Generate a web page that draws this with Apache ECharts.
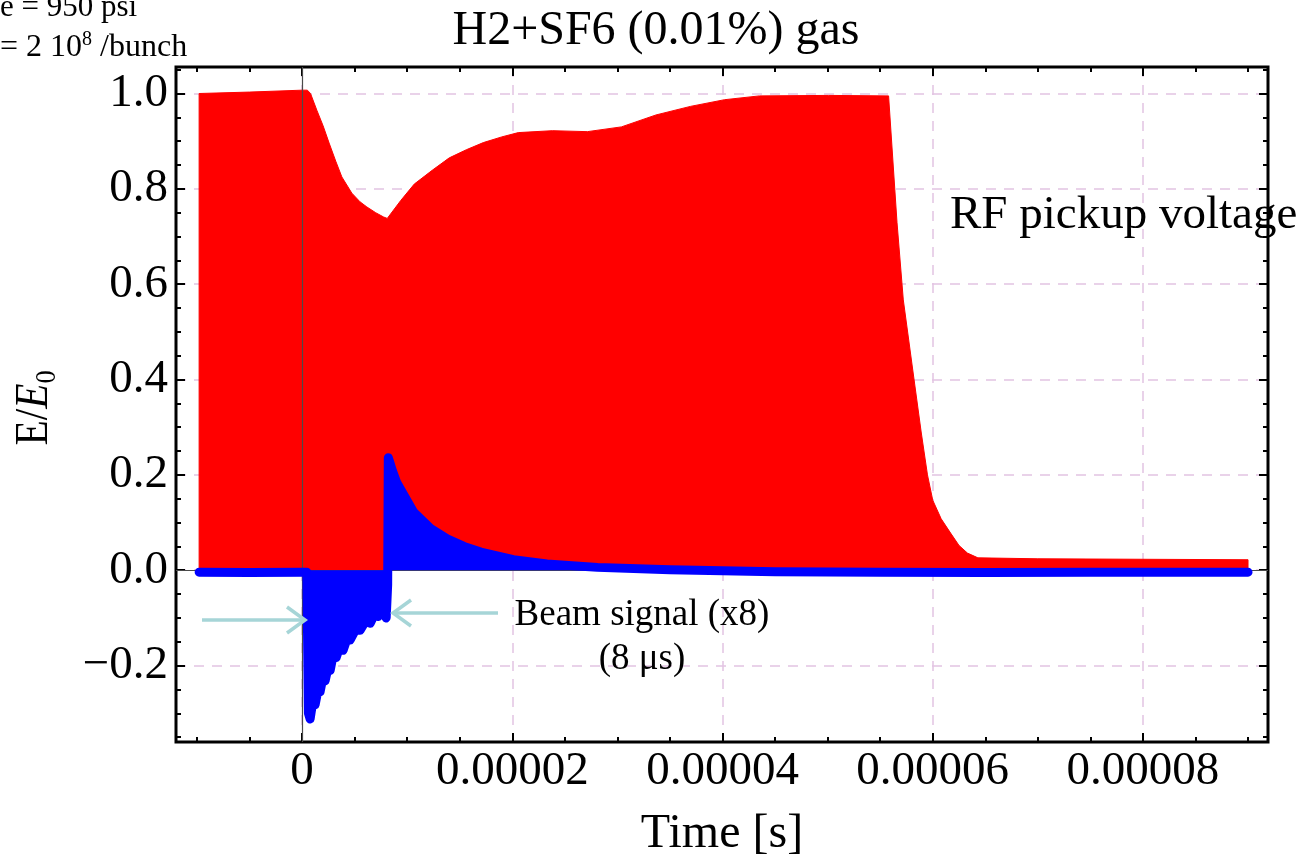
<!DOCTYPE html>
<html>
<head>
<meta charset="utf-8">
<script src="https://cdn.jsdelivr.net/npm/echarts@6/dist/echarts.min.js"></script>
<style>
html,body{margin:0;padding:0;background:#fff;}
#c{width:1310px;height:860px;}
</style>
</head>
<body>
<div id="c"></div>
<script>
// ---- Data (time in seconds, E/E0) ----
const rfTime = [-0.98e-5, -0.98e-5, -0.5e-5, 0, 0.05e-5, 0.08e-5, 0.14e-5, 0.2e-5, 0.257e-5, 0.32e-5, 0.378e-5, 0.473e-5,
  0.55e-5, 0.616e-5, 0.7e-5, 0.775e-5, 0.81e-5, 0.94e-5, 1.067e-5, 1.238e-5, 1.40e-5, 1.562e-5, 1.724e-5, 1.9e-5, 2.057e-5, 2.381e-5,
  2.714e-5, 3.038e-5, 3.367e-5, 3.695e-5, 4.019e-5, 4.352e-5, 5.01e-5, 5.58e-5, 5.66e-5, 5.72e-5,
  5.81e-5, 5.89e-5, 5.95e-5, 6.0e-5, 6.08e-5, 6.17e-5, 6.25e-5, 6.33e-5, 6.43e-5, 7.0e-5,
  8.0e-5, 9.0e-5, 9.0e-5];
const rfValue = [0, 1.0, 1.003, 1.007, 1.007, 1.0, 0.965, 0.932, 0.896, 0.858, 0.825, 0.791,
  0.773, 0.762, 0.750, 0.741, 0.738, 0.776, 0.810, 0.839, 0.865, 0.882, 0.897, 0.909, 0.918, 0.922,
  0.920, 0.930, 0.955, 0.973, 0.987, 0.995, 0.996, 0.995, 0.73, 0.567,
  0.42, 0.29, 0.20, 0.147, 0.108, 0.078, 0.052, 0.036, 0.026, 0.024,
  0.023, 0.022, 0];

const beamTime = [-0.98e-5, -0.5e-5, 0, 0.045e-5, 0.06e-5, 0.076e-5, 0.105e-5, 0.124e-5, 0.152e-5, 0.171e-5,
  0.2e-5, 0.219e-5, 0.248e-5, 0.267e-5, 0.295e-5, 0.324e-5, 0.362e-5, 0.39e-5, 0.429e-5, 0.457e-5,
  0.505e-5, 0.552e-5, 0.6e-5, 0.648e-5, 0.686e-5, 0.724e-5, 0.762e-5, 0.8e-5, 0.814e-5, 0.82e-5,
  0.86e-5, 0.90e-5, 0.98e-5, 1.06e-5, 1.22e-5, 1.38e-5, 1.54e-5, 1.70e-5, 2.01e-5, 2.33e-5,
  2.81e-5, 3.5e-5, 4.5e-5, 5.5e-5, 6.5e-5, 7.5e-5, 8.5e-5, 9.0e-5];
const beamValue = [-0.004, -0.005, -0.004, -0.004, -0.30, -0.312, -0.27, -0.282, -0.25, -0.255,
  -0.222, -0.232, -0.203, -0.21, -0.178, -0.183, -0.158, -0.168, -0.143, -0.146,
  -0.126, -0.126, -0.108, -0.111, -0.094, -0.097, -0.084, -0.1, -0.03, 0.236,
  0.208, 0.184, 0.153, 0.122, 0.088, 0.066, 0.05, 0.038, 0.022, 0.013,
  0.006, 0.001, -0.003, -0.004, -0.005, -0.004, -0.004, -0.004];

const xTickValues = [0, 2e-5, 4e-5, 6e-5, 8e-5];
const xTickLabels = ['0', '0.00002', '0.00004', '0.00006', '0.00008'];
const yTickValues = [-0.2, 0, 0.2, 0.4, 0.6, 0.8, 1.0];
const yTickLabels = ['\u22120.2', '0.0', '0.2', '0.4', '0.6', '0.8', '1.0'];

// ---- Chart ----
const FONT = "'Liberation Serif','Times New Roman',serif";
const X_MIN = -1.2e-5, X_MAX = 9.19e-5, Y_MIN = -0.3603, Y_MAX = 1.0556;
const GRIDLINE = {show: true, showMinLine: false, showMaxLine: false,
  lineStyle: {color: '#e2c4e2', width: 1.5, type: [10, 8]}};

function labelFor(values, labels) {
  return function (v) {
    for (let i = 0; i < values.length; i++) {
      if (Math.abs(values[i] - v) < Math.abs(values[1] - values[0]) * 1e-3) return labels[i];
    }
    return '';
  };
}

function xAx(pos, major, showLabel) {
  return {
    type: 'value', position: pos, min: X_MIN, max: X_MAX,
    splitNumber: major ? 5 : 20,
    axisLine: {show: false, onZero: false},
    axisTick: {show: true, inside: true, length: major ? 9 : 5, lineStyle: {color: '#000', width: 2}},
    axisLabel: {show: showLabel, margin: 6, fontFamily: FONT, fontSize: 47, color: '#000',
      showMinLabel: false, showMaxLabel: false,
      formatter: labelFor(xTickValues, xTickLabels)},
    splitLine: (major && pos === 'bottom') ? GRIDLINE : {show: false},
    minorTick: {show: false}
  };
}
function yAx(pos, major, showLabel) {
  return {
    type: 'value', position: pos, min: Y_MIN, max: Y_MAX,
    splitNumber: major ? 7 : 28,
    axisLine: {show: false, onZero: false},
    axisTick: {show: true, inside: true, length: major ? 9 : 5, lineStyle: {color: '#000', width: 2}},
    axisLabel: {show: showLabel, margin: 8, fontFamily: FONT, fontSize: 47, color: '#000',
      showMinLabel: false, showMaxLabel: false,
      formatter: labelFor(yTickValues, yTickLabels)},
    splitLine: (major && pos === 'left') ? GRIDLINE : {show: false},
    minorTick: {show: false}
  };
}

const chart = echarts.init(document.getElementById('c'), null, {renderer: 'canvas'});
const arrowColor = '#a6d5d7';

chart.setOption({
  animation: false,
  backgroundColor: '#fff',
  grid: {left: 176, top: 67, width: 1092, height: 675, show: true,
    borderColor: '#000', borderWidth: 3, backgroundColor: 'transparent', containLabel: false},
  xAxis: [xAx('bottom', true, true), xAx('bottom', false, false), xAx('top', true, false), xAx('top', false, false)],
  yAxis: [yAx('left', true, true), yAx('left', false, false), yAx('right', true, false), yAx('right', false, false)],
  series: [
    {
      name: 'RF pickup voltage', type: 'line', xAxisIndex: 0, yAxisIndex: 0,
      data: rfTime.map((t, i) => [t, rfValue[i]]),
      showSymbol: false, z: 2,
      lineStyle: {color: '#ff0000', width: 1},
      areaStyle: {color: '#ff0000', opacity: 1},
      markLine: {
        silent: true, symbol: 'none', z: 5, label: {show: false},
        lineStyle: {color: '#4a4a4a', width: 1.2, type: 'solid'},
        data: [{xAxis: 0}, {yAxis: 0}]
      }
    },
    {
      name: 'Beam signal (x8)', type: 'line', xAxisIndex: 0, yAxisIndex: 0,
      data: beamTime.map((t, i) => [t, beamValue[i]]),
      symbol: 'circle', symbolSize: 7, showSymbol: true, showAllSymbol: true, z: 10,
      itemStyle: {color: '#0000ff'},
      lineStyle: {color: '#0000ff', width: 9, join: 'round', cap: 'round'},
      areaStyle: {color: '#0000ff', opacity: 1}
    }
  ],
  graphic: [
    {type: 'text', x: 656, y: 31, z: 100, style: {text: 'H2+SF6 (0.01%) gas', font: '48px ' + FONT, fill: '#000', align: 'center', verticalAlign: 'middle'}},
    {type: 'text', x: 0, y: 8, z: 100, style: {text: 'e = 950 psi', font: '31px ' + FONT, fill: '#000', align: 'left', verticalAlign: 'middle'}},
    {type: 'text', x: 0, y: 48, z: 100, style: {
      text: '{m|= 2 10}{s|8}{m| /bunch}', fill: '#000', align: 'left', verticalAlign: 'middle',
      rich: {m: {fontFamily: FONT, fontSize: 32, lineHeight: 36}, s: {fontFamily: FONT, fontSize: 20, lineHeight: 26, verticalAlign: 'top'}}
    }},
    {type: 'text', x: 950, y: 216, z: 100, style: {text: 'RF pickup voltage', font: '47px ' + FONT, fill: '#000', align: 'left', verticalAlign: 'middle'}},
    {type: 'text', x: 642, y: 615.5, z: 100, style: {text: 'Beam signal (x8)', font: '37px ' + FONT, fill: '#000', align: 'center', verticalAlign: 'middle'}},
    {type: 'text', x: 642, y: 659.5, z: 100, style: {text: '(8 \u03bcs)', font: '37px ' + FONT, fill: '#000', align: 'center', verticalAlign: 'middle'}},
    {type: 'text', x: 722, y: 834, z: 100, style: {text: 'Time [s]', font: '48px ' + FONT, fill: '#000', align: 'center', verticalAlign: 'middle'}},
    {type: 'text', x: 35, y: 408, rotation: Math.PI / 2, scaleX: 0.88, z: 100, style: {
      text: '{n|E/}{i|E}{s|0}', fill: '#000', align: 'center', verticalAlign: 'middle',
      rich: {
        n: {fontFamily: FONT, fontSize: 47, lineHeight: 54},
        i: {fontFamily: FONT, fontSize: 47, lineHeight: 54, fontStyle: 'italic'},
        s: {fontFamily: FONT, fontSize: 30, lineHeight: 30, verticalAlign: 'bottom'}
      }
    }},
    {type: 'polyline', z: 100, shape: {points: [[202, 620], [304, 620]]}, style: {stroke: arrowColor, lineWidth: 3.5, fill: null}},
    {type: 'polyline', z: 100, shape: {points: [[287, 607], [305, 620], [287, 633]]}, style: {stroke: arrowColor, lineWidth: 3.5, fill: null}},
    {type: 'polyline', z: 100, shape: {points: [[498, 613], [394, 613]]}, style: {stroke: arrowColor, lineWidth: 3.5, fill: null}},
    {type: 'polyline', z: 100, shape: {points: [[411, 600], [393, 613], [411, 626]]}, style: {stroke: arrowColor, lineWidth: 3.5, fill: null}}
  ]
});
</script>
</body>
</html>
